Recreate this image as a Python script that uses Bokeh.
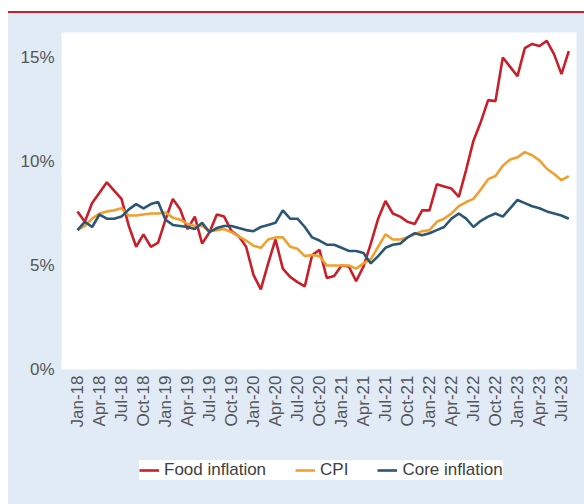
from bokeh.plotting import figure
from bokeh.models import Range1d, FixedTicker, Legend, LegendItem, Div, ColumnDataSource
from bokeh.layouts import column
from bokeh.embed import file_html
from bokeh.resources import INLINE
from math import pi

# Monthly series, Jan-18 .. Aug-23 (68 months)
food_inflation = [7.6, 7.1, 8.0, 8.5, 9.0, 8.6, 8.2, 6.9, 5.9, 6.5, 5.9, 6.1,
                  7.2, 8.2, 7.7, 6.75, 7.35, 6.05, 6.6, 7.45, 7.35, 6.65, 6.4, 5.9,
                  4.55, 3.85, 5.1, 6.25, 4.85, 4.45, 4.2, 4.0, 5.5, 5.75, 4.4, 4.5,
                  5.0, 4.95, 4.25, 4.95, 6.05, 7.25, 8.1, 7.5, 7.35, 7.1, 7.0, 7.65,
                  7.65, 8.9, 8.8, 8.7, 8.3, 9.6, 11.0, 11.9, 12.95, 12.9, 15.0, 14.55,
                  14.1, 15.45, 15.65, 15.55, 15.8, 15.15, 14.2, 15.3]
cpi = [6.7, 6.9, 7.25, 7.5, 7.6, 7.65, 7.75, 7.4, 7.4, 7.45, 7.5, 7.5,
       7.55, 7.3, 7.2, 7.0, 6.9, 6.9, 6.65, 6.7, 6.75, 6.6, 6.4, 6.2,
       5.95, 5.85, 6.25, 6.35, 6.35, 5.9, 5.8, 5.45, 5.5, 5.45, 5.0, 5.0,
       5.0, 5.0, 4.85, 5.1, 5.3, 5.9, 6.5, 6.25, 6.25, 6.35, 6.5, 6.65,
       6.7, 7.1, 7.25, 7.5, 7.85, 8.05, 8.2, 8.65, 9.15, 9.3, 9.8, 10.1,
       10.2, 10.45, 10.3, 10.05, 9.65, 9.4, 9.1, 9.3]
core_inflation = [6.7, 7.1, 6.85, 7.45, 7.25, 7.25, 7.35, 7.7, 7.95, 7.75, 7.95, 8.05,
                  7.2, 6.95, 6.9, 6.85, 6.75, 7.05, 6.6, 6.8, 6.9, 6.9, 6.8, 6.7,
                  6.65, 6.85, 6.95, 7.05, 7.65, 7.25, 7.25, 6.85, 6.35, 6.2, 6.0, 6.0,
                  5.85, 5.7, 5.7, 5.6, 5.1, 5.45, 5.85, 6.0, 6.05, 6.35, 6.55, 6.45,
                  6.55, 6.7, 6.85, 7.25, 7.5, 7.25, 6.85, 7.15, 7.35, 7.5, 7.35, 7.75,
                  8.15, 8.0, 7.85, 7.75, 7.6, 7.5, 7.4, 7.25]
tick_labels = ["Jan-18", "Apr-18", "Jul-18", "Oct-18", "Jan-19", "Apr-19", "Jul-19", "Oct-19",
               "Jan-20", "Apr-20", "Jul-20", "Oct-20", "Jan-21", "Apr-21", "Jul-21", "Oct-21",
               "Jan-22", "Apr-22", "Jul-22", "Oct-22", "Jan-23", "Apr-23", "Jul-23"]
series_names = ["Food inflation", "CPI", "Core inflation"]
y_ticks = [0, 5, 10, 15]

month_index = list(range(len(food_inflation)))
tick_positions = [3 * k for k in range(len(tick_labels))]

RED = "#c8202a"
ORANGE = "#f0a030"
NAVY = "#2b5775"
LIGHT = "#e1ebf5"
colors = [RED, ORANGE, NAVY]
cols = ["food", "cpi", "core"]

src = ColumnDataSource(dict(x=month_index, food=food_inflation, cpi=cpi, core=core_inflation))

p = figure(width=576, height=427, x_range=Range1d(-2.18, 68.05), y_range=Range1d(0, 16.2),
           output_backend="svg", toolbar_location=None,
           min_border_left=53, min_border_right=8, min_border_top=19, min_border_bottom=71,
           border_fill_color=LIGHT, background_fill_color="white", outline_line_color=None,
           margin=0)

for col, c in zip(cols, colors):
    p.line("x", col, source=src, line_color=c, line_width=2.6)

p.xgrid.grid_line_color = None
p.ygrid.grid_line_color = None

xa = p.xaxis[0]
xa.ticker = FixedTicker(ticks=tick_positions)
xa.major_label_overrides = {t: l for t, l in zip(tick_positions, tick_labels)}
xa.major_label_orientation = pi / 2
xa.axis_line_color = None
xa.major_tick_line_color = None
xa.minor_tick_line_color = None
xa.major_tick_out = 0
xa.major_tick_in = 0
xa.major_label_standoff = 6
xa.major_label_text_font = "Liberation Sans"
xa.major_label_text_font_size = "17px"
xa.major_label_text_color = "#555555"

ya = p.yaxis[0]
ya.ticker = FixedTicker(ticks=y_ticks)
ya.major_label_overrides = {v: f"{v}%" for v in y_ticks}
ya.axis_line_color = None
ya.major_tick_line_color = None
ya.minor_tick_line_color = None
ya.major_tick_out = 0
ya.major_tick_in = 0
ya.major_label_standoff = 7
ya.major_label_text_font = "Liberation Sans"
ya.major_label_text_font_size = "17px"
ya.major_label_text_color = "#555555"

# legend strip below the chart (same light panel); its lines sit outside the view
lf = figure(width=576, height=64, x_range=Range1d(-2.18, 68.05), y_range=Range1d(-100, -99),
            output_backend="svg", toolbar_location=None,
            x_axis_location=None, y_axis_location=None,
            min_border=0, border_fill_color=LIGHT, background_fill_color=LIGHT,
            outline_line_color=None, margin=0)
lf.xgrid.grid_line_color = None
lf.ygrid.grid_line_color = None
items = []
for name, col, c in zip(series_names, cols, colors):
    r = lf.line("x", col, source=src, line_color=c, line_width=2.6)
    items.append(LegendItem(label=name, renderers=[r]))

legend = Legend(items=items, orientation="horizontal", location=(78, 24),
                label_text_font="Liberation Sans", label_text_font_size="17px",
                label_text_color="#404040", glyph_width=20, glyph_height=20,
                label_standoff=5, spacing=29, padding=10, margin=0,
                border_line_color=None, background_fill_color="#ffffff", background_fill_alpha=1.0)
lf.add_layout(legend)

top = Div(text="", width=576, height=5, margin=0,
          styles={"background": "linear-gradient(#ffffff 0px, #ffffff 3px, %s 3px, %s 5px)" % (RED, RED)})

layout = column(top, p, lf, spacing=0, margin=(8, 0, 0, 8),
                styles={"background-color": LIGHT})
open("out.html", "w").write(file_html(layout, INLINE))
